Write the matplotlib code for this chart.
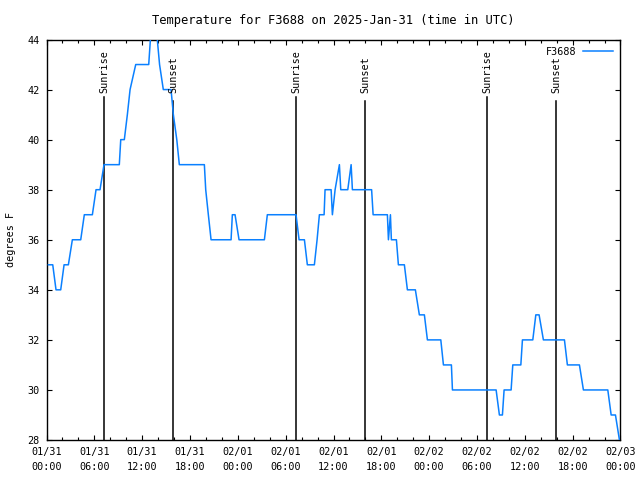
import numpy as np
import pandas as pd
import matplotlib
matplotlib.use("Agg")
import matplotlib.pyplot as plt
import matplotlib.dates as mdates

plt.rcParams['font.family'] = ['DejaVu Sans Mono']
plt.rcParams['font.size'] = 7.3

station = "F3688"
start = pd.Timestamp("2025-01-31 00:00")

# hours since 2025-01-31 00:00 UTC and temperature (F)
hours = [0.23, 0.78, 1.19, 1.78, 2.20, 2.74, 3.24, 4.29, 4.74, 5.75,
         6.21, 6.71, 7.21, 9.13, 9.31, 9.76, 10.14, 10.48, 11.19, 12.82,
         13.24, 13.61, 14.18, 14.65, 15.62, 15.91, 16.34, 16.66, 19.80, 19.97,
         20.30, 20.64, 23.15, 23.31, 23.65, 24.15, 27.33, 27.70, 31.30, 31.68,
         32.35, 32.72, 33.60, 33.94, 34.23, 34.82, 34.94, 35.70, 35.86, 36.20,
         36.74, 36.91, 37.79, 38.21, 38.37, 40.78, 40.97, 42.76, 42.89, 43.14,
         43.26, 43.89, 44.14, 44.89, 45.27, 46.27, 46.77, 47.40, 47.78, 49.46,
         49.79, 50.79, 50.92, 56.40, 56.81, 57.19, 57.40, 58.28, 58.49, 59.50,
         59.70, 61.00, 61.38, 61.79, 62.33, 64.97, 65.34, 66.85, 67.35, 70.41,
         70.83, 71.37, 71.87]
temps = [35, 35, 34, 34, 35, 35, 36, 36, 37, 37,
         38, 38, 39, 39, 40, 40, 41, 42, 43, 43,
         45, 45, 43, 42, 42, 41, 40, 39, 39, 38,
         37, 36, 36, 37, 37, 36, 36, 37, 37, 36,
         36, 35, 35, 36, 37, 37, 38, 38, 37, 38,
         39, 38, 38, 39, 38, 38, 37, 37, 36, 37,
         36, 36, 35, 35, 34, 34, 33, 33, 32, 32,
         31, 31, 30, 30, 29, 29, 30, 30, 31, 31,
         32, 32, 33, 33, 32, 32, 31, 31, 30, 30,
         29, 29, 28]

sunrise = ["2025-01-31 07:16", "2025-02-01 07:17", "2025-02-02 07:18"]
sunset = ["2025-01-31 15:55", "2025-02-01 16:00", "2025-02-02 15:58"]

times = start + pd.to_timedelta(hours, unit="h")

fig = plt.figure(figsize=(6.4, 4.8), dpi=100)
ax = fig.add_axes([0.0727, 0.0833, 0.8968, 0.8344])

ax.plot(times, temps, color="#0a80ff", lw=1.1, label=station, zorder=3)

for t in sunrise:
    ts = pd.Timestamp(t)
    ax.plot([ts, ts], [28, 41.7], color="black", lw=1.1, zorder=2)
    ax.text(ts, 41.85, "Sunrise", rotation=90, ha="center", va="bottom")
for t in sunset:
    ts = pd.Timestamp(t)
    ax.plot([ts, ts], [28, 41.55], color="black", lw=1.1, zorder=2)
    ax.text(ts, 41.85, "Sunset", rotation=90, ha="center", va="bottom")

ax.set_xlim(start, pd.Timestamp("2025-02-03 00:00"))
ax.set_ylim(28, 44)
ax.set_yticks(np.arange(28, 45, 2))

ax.xaxis.set_major_locator(mdates.HourLocator(byhour=range(0, 24, 6)))
ax.xaxis.set_minor_locator(mdates.HourLocator(byhour=range(0, 24, 2)))
ax.xaxis.set_major_formatter(mdates.DateFormatter("%m/%d\n%H:%M"))

ax.tick_params(which="major", direction="in", length=3.8, width=0.8,
               top=True, right=True, pad=5)
ax.tick_params(which="minor", direction="in", length=2.2, width=0.8,
               top=True, right=False)
ax.tick_params(axis="y", which="minor", left=False, right=False)
for s in ax.spines.values():
    s.set_linewidth(1.0)

ax.set_ylabel("degrees F", labelpad=8)
ax.set_title("Temperature for F3688 on 2025-Jan-31 (time in UTC)", pad=11)

ax.legend(loc="upper right", frameon=False, markerfirst=False,
          handlelength=3.0, borderaxespad=0.3, handletextpad=0.6)

fig.canvas.draw()
plt.setp(ax.get_xticklabels(), linespacing=1.65)

fig.savefig("out.png", dpi=100)
